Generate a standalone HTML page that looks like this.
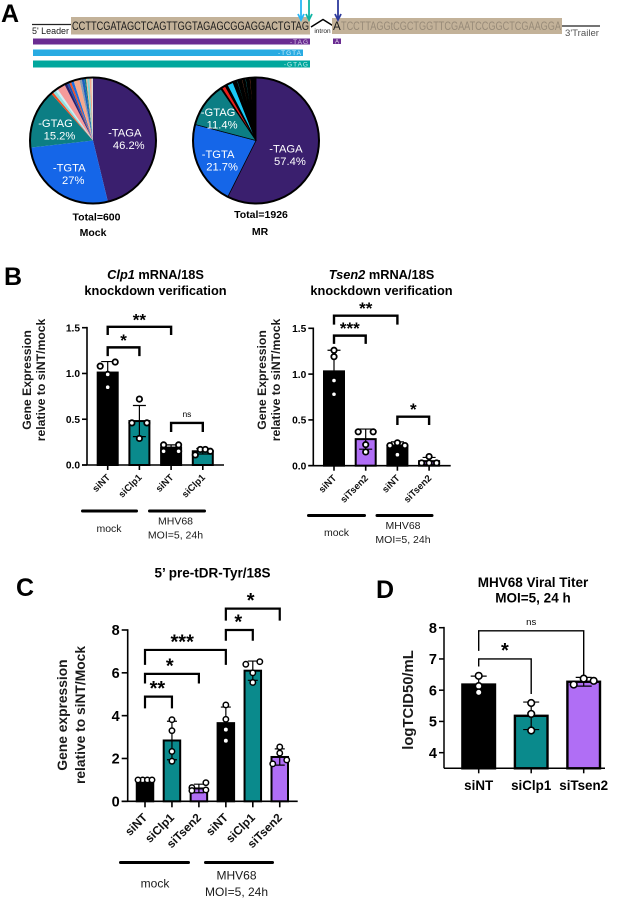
<!DOCTYPE html>
<html lang="en">
<head>
<meta charset="utf-8">
<title>pre-tRNA splicing figure</title>
<style>
html,body{margin:0;padding:0;background:#fff}
svg{display:block}
text{font-family:"Liberation Sans",sans-serif;fill:#1a1a1a}
.b{font-weight:bold}
.panel{font-weight:bold;font-size:25px;fill:#000}
.w{fill:#fff;font-size:11.2px;text-anchor:middle}
.m{text-anchor:middle}
</style>
</head>
<body>
<svg id="fig" xmlns="http://www.w3.org/2000/svg" width="619" height="899" viewBox="0 0 619 899">
<rect width="619" height="899" fill="#fff"/>

<!-- Panel A -->
<g>
<text class="panel" x="1" y="22">A</text>
<line x1="32" y1="24.5" x2="71" y2="24.5" stroke="#222" stroke-width="1.2"/>
<text x="32" y="34" font-size="9" textLength="37" lengthAdjust="spacingAndGlyphs">5' Leader</text>
<rect x="71" y="17" width="239" height="17.5" fill="#c3b299"/>
<text x="72" y="30" font-size="11.5" fill="#000" textLength="237" lengthAdjust="spacingAndGlyphs">CCTTCGATAGCTCAGTTGGTAGAGCGGAGGACTGTAG</text>
<path d="M311 27 L323 19.5 L335 27" fill="none" stroke="#000" stroke-width="1.5"/>
<text x="322.5" y="33" font-size="6.5" class="m">intron</text>
<rect x="332" y="18" width="230" height="16" fill="#c3b299"/>
<text x="333" y="30" font-size="11.5" fill="#000">A</text>
<text x="341" y="30" font-size="11.5" style="fill:#978a78" textLength="220" lengthAdjust="spacingAndGlyphs">TCCTTAGGtCGCTGGTTCGAATCCGGCTCGAAGGA</text>
<line x1="562" y1="26" x2="600" y2="26" stroke="#222" stroke-width="1.2"/>
<text x="565" y="36" font-size="9" style="fill:#555" textLength="34" lengthAdjust="spacingAndGlyphs">3'Trailer</text>
<rect x="33" y="38.5" width="277" height="6" fill="#6a2c91"/>
<text x="309" y="44" font-size="6.5" text-anchor="end" letter-spacing="1" style="fill:#d9c8e6">-TAG</text>
<rect x="333" y="38.5" width="8" height="5.5" fill="#6a2c91"/>
<text x="337" y="43.5" font-size="6" class="m" style="fill:#e6daf0">A</text>
<rect x="33" y="49.5" width="270" height="6.5" fill="#29abe2"/>
<text x="302" y="55" font-size="6.5" text-anchor="end" letter-spacing="1" style="fill:#cfeefa">-TGTA</text>
<rect x="33" y="60.5" width="277" height="7" fill="#00a79d"/>
<text x="309" y="66.5" font-size="6.5" text-anchor="end" letter-spacing="1" style="fill:#c9f0ec">-GTAG</text>
<path d="M301 0V19M298 14L301 20L304 14" fill="none" stroke="#29b6f6" stroke-width="1.8"/>
<path d="M309 0V19M306 14L309 20L312 14" fill="none" stroke="#11b5a5" stroke-width="1.8"/>
<path d="M338 0V19M335 14L338 20L341 14" fill="none" stroke="#2e3a9c" stroke-width="1.8"/>
</g>

<g id="pie-mock"></g>
<g id="pie-mr"></g>
<text class="b m" x="96.5" y="220.5" font-size="10.5" style="fill:#000">Total=600</text>
<text class="b m" x="93" y="236" font-size="10.5" style="fill:#000">Mock</text>
<text class="b m" x="261" y="218" font-size="10.5" style="fill:#000">Total=1926</text>
<text class="b m" x="260" y="235" font-size="10.5" style="fill:#000">MR</text>

<!-- Panel B -->
<text class="panel" x="4" y="285">B</text>
<text class="b m" font-size="12.8" style="fill:#000"><tspan x="155.5" y="279"><tspan font-style="italic">Clp1</tspan> mRNA/18S</tspan><tspan x="155.5" y="295">knockdown verification</tspan></text>
<text class="b m" font-size="12.2" transform="translate(27,380) rotate(-90)"><tspan x="0" y="4">Gene Expression</tspan><tspan x="0" y="18">relative to siNT/mock</tspan></text>
<g id="chart-clp1"></g>
<rect x="81" y="509.5" width="57" height="3" rx="1.5" fill="#000"/>
<rect x="148" y="509.5" width="58" height="3" rx="1.5" fill="#000"/>
<text class="m" x="109" y="532" font-size="10.5">mock</text>
<text class="m" font-size="10.5"><tspan x="175.5" y="524.5">MHV68</tspan><tspan x="175.5" y="538.5">MOI=5, 24h</tspan></text>

<text class="b m" font-size="12.8" style="fill:#000"><tspan x="381.5" y="279"><tspan font-style="italic">Tsen2</tspan> mRNA/18S</tspan><tspan x="381.5" y="295">knockdown verification</tspan></text>
<text class="b m" font-size="12.2" transform="translate(262,380) rotate(-90)"><tspan x="0" y="4">Gene Expression</tspan><tspan x="0" y="18">relative to siNT/mock</tspan></text>
<g id="chart-tsen2"></g>
<rect x="307" y="514" width="59" height="3" rx="1.5" fill="#000"/>
<rect x="375.5" y="514" width="58" height="3" rx="1.5" fill="#000"/>
<text class="m" x="336.5" y="536" font-size="10.5">mock</text>
<text class="m" font-size="10.5"><tspan x="403" y="529">MHV68</tspan><tspan x="403" y="543">MOI=5, 24h</tspan></text>

<!-- Panel C -->
<text class="panel" x="16" y="596">C</text>
<text class="b m" x="212.5" y="577.5" font-size="13.5" style="fill:#000">5’ pre-tDR-Tyr/18S</text>
<text class="b m" font-size="13.8" transform="translate(62,715) rotate(-90)"><tspan x="0" y="5">Gene expression</tspan><tspan x="0" y="23">relative to siNT/Mock</tspan></text>
<g id="chart-pretdr"></g>
<rect x="119" y="861" width="71" height="3" rx="1.5" fill="#000"/>
<rect x="204" y="861" width="70" height="3" rx="1.5" fill="#000"/>
<text class="m" x="155" y="887.5" font-size="12">mock</text>
<text class="m" font-size="12"><tspan x="236.5" y="879.5">MHV68</tspan><tspan x="236.5" y="896">MOI=5, 24h</tspan></text>

<!-- Panel D -->
<text class="panel" x="376" y="598">D</text>
<text class="b m" font-size="13.5" style="fill:#000"><tspan x="533" y="587">MHV68 Viral Titer</tspan><tspan x="533" y="602.5">MOI=5, 24 h</tspan></text>
<text class="b m" font-size="14.8" transform="translate(408,700) rotate(-90)" y="0"><tspan x="0" y="5">logTCID50/mL</tspan></text>
<g id="chart-titer"></g>
</svg>

<script>
// ---------- Pie data (percent of reads, clockwise from 12 o'clock) ----------
const mockPieValues = [46.2, 27, 15.2, 0.6, 0.8, 0.6, 2.1, 0.7, 0.6, 0.5, 0.7, 1.5, 0.6, 0.7, 0.4, 0.3, 0.6, 0.5, 0.4];
const mockPieNames = ['-TAGA', '-TGTA', '-GTAG'];
const mockPiePalette = ['#3a1f6e', '#1566e8', '#0c7e84', '#f04e23', '#8fe0e0', '#cfeef5', '#f59a9a', '#2c1f6b', '#1d4fb0', '#f04e23', '#1d6fe0', '#f7a88c', '#8a9ab0', '#1b5fbf', '#0f7f85', '#f7b08c', '#7ed6d6', '#f7a88c', '#dddddd'];
const mrPieValues = [57.4, 21.7, 11.4, 0.3, 1, 0.6, 1.6, 1, 0.3, 1, 0.3, 0.6, 0.3, 0.8, 0.3, 1.4];
const mrPieNames = ['-TAGA', '-TGTA', '-GTAG'];
const mrPiePalette = ['#3a1f6e', '#1566e8', '#0c7e84', '#000000', '#e8201a', '#000000', '#19c8f5', '#000000', '#11858c', '#000000', '#8a4a30', '#000000', '#11858c', '#000000', '#a04030', '#000000'];

// ---------- Clp1 knockdown ----------
const clp1Categories = ['siNT', 'siClp1', 'siNT', 'siClp1'];
const clp1Means = [1.01, 0.48, 0.19, 0.15];
const clp1Sds = [0.12, 0.17, 0.03, 0.03];
const clp1Points = [[1.125, 1.08, 0.99, 0.85], [0.72, 0.46, 0.46, 0.29], [0.22, 0.22, 0.15, 0.15], [0.17, 0.17, 0.15, 0.11]];
const clp1Ticks = ['0.0', '0.5', '1.0', '1.5'];
const clp1BracketFrom = [0, 0, 2];
const clp1BracketTo = [2, 1, 3];
const clp1BracketTop = [1.51, 1.285, 0.46];
const clp1BracketLeftEnd = [1.42, 1.19, 0.36];
const clp1BracketRightEnd = [1.42, 1.19, 0.36];
const clp1BracketLabels = ['**', '*', 'ns'];

// ---------- Tsen2 knockdown ----------
const tsen2Categories = ['siNT', 'siTsen2', 'siNT', 'siTsen2'];
const tsen2Means = [1.03, 0.29, 0.22, 0.05];
const tsen2Sds = [0.23, 0.11, 0.04, 0.04];
const tsen2Points = [[1.26, 1.19, 0.93, 0.78], [0.37, 0.37, 0.23, 0.15], [0.25, 0.22, 0.22, 0.12], [0.10, 0.03, 0.03, 0.03]];
const tsen2Ticks = ['0.0', '0.5', '1.0', '1.5'];
const tsen2BracketFrom = [0, 0, 2];
const tsen2BracketTo = [2, 1, 3];
const tsen2BracketTop = [1.638, 1.42, 0.535];
const tsen2BracketLeftEnd = [1.54, 1.33, 0.445];
const tsen2BracketRightEnd = [1.54, 1.33, 0.445];
const tsen2BracketLabels = ['**', '***', '*'];

// ---------- 5' pre-tDR-Tyr ----------
const pretdrCategories = ['siNT', 'siClp1', 'siTsen2', 'siNT', 'siClp1', 'siTsen2'];
const pretdrMeans = [1, 2.84, 0.6, 3.65, 6.1, 2.07];
const pretdrSds = [0, 0.9, 0.2, 0.75, 0.45, 0.38];
const pretdrPoints = [[1, 1, 1, 1], [3.81, 3.3, 2.33, 1.87], [0.87, 0.64, 0.53, 0.5], [4.5, 3.83, 3.35, 2.83], [6.52, 6.4, 6, 5.55], [2.54, 2.25, 1.93, 1.75]];
const pretdrTicks = ['0', '2', '4', '6', '8'];
const pretdrBracketFrom = [3, 3, 0, 0, 0];
const pretdrBracketTo = [5, 4, 3, 2, 1];
const pretdrBracketTop = [9, 8, 7.07, 5.95, 4.89];
const pretdrBracketLeftEnd = [8.44, 7.5, 6.37, 5.5, 4.34];
const pretdrBracketRightEnd = [8.44, 7.5, 6.37, 5.5, 4.34];
const pretdrBracketLabels = ['*', '*', '***', '*', '**'];

// ---------- Viral titer ----------
const titerCategories = ['siNT', 'siClp1', 'siTsen2'];
const titerMeans = [6.18, 5.18, 6.27];
const titerSds = [0.27, 0.44, 0.14];
const titerPoints = [[6.46, 6.13, 5.93], [5.59, 5.24, 4.71], [6.37, 6.3, 6.18]];
const titerTicks = ['4', '5', '6', '7', '8'];
const titerBracketFrom = [0, 0];
const titerBracketTo = [2, 1];
const titerBracketTop = [7.9, 7];
const titerBracketLeftEnd = [7.26, 6.76];
const titerBracketRightEnd = [6.46, 5.88];
const titerBracketLabels = ['ns', '*'];

const NS = 'http://www.w3.org/2000/svg';
function make(parent, tag, attrs, text) {
  const el = document.createElementNS(NS, tag);
  for (const k in attrs) el.setAttribute(k, attrs[k]);
  if (text !== undefined) el.textContent = text;
  parent.appendChild(el);
  return el;
}

// ---------- Pie drawing ----------
function drawPie(host, values, names, palette, opt) {
  const total = values.reduce((a, b) => a + b, 0);
  const pt = (angle, r) => [opt.cx + r * Math.sin(angle), opt.cy - r * Math.cos(angle)];
  let acc = 0;
  values.forEach((v, i) => {
    const a0 = acc / total * 2 * Math.PI;
    acc += v;
    const a1 = acc / total * 2 * Math.PI;
    const p0 = pt(a0, opt.r), p1 = pt(a1, opt.r);
    const large = a1 - a0 > Math.PI ? 1 : 0;
    const slice = make(host, 'path', {
      d: `M${opt.cx} ${opt.cy}L${p0[0]} ${p0[1]}A${opt.r} ${opt.r} 0 ${large} 1 ${p1[0]} ${p1[1]}Z`,
      fill: palette[i], stroke: opt.sliceStroke, 'stroke-width': opt.sliceStrokeWidth
    });
    
    
  });
  const ring = make(host, 'circle', { cx: opt.cx, cy: opt.cy, r: opt.r, fill: 'none', stroke: '#000', 'stroke-width': 2 });
  
  
  let acc2 = 0;
  names.forEach((name, i) => {
    const mid = (acc2 + values[i] / 2) / total * 2 * Math.PI;
    acc2 += values[i];
    const p = pt(mid + opt.labelShift[i], opt.labelRadius[i]);
    const a = make(host, 'text', { class: 'w', x: p[0] - 2, y: p[1] - 2 + opt.labelDy }, name);
    
    
    const b = make(host, 'text', { class: 'w', x: p[0] + 2, y: p[1] + 10.5 + opt.labelDy }, values[i] + '%');
    
    
  });
}

// ---------- Bar chart drawing ----------
function swarmOffsets(n, spread) {
  if (n === 1) return [0];
  if (n === 2) return [spread / 2, -spread / 2];
  if (n === 3) return [0, spread / 2, -spread / 2];
  return [-spread / 6, spread / 6, spread / 2, -spread / 2];
}

function drawBars(host, d, o) {
  const y = v => o.yBottom - (v - o.vBottom) / (o.vTop - o.vBottom) * (o.yBottom - o.yTop);
  const x = i => o.firstCenter + i * o.step;

  d.means.forEach((m, i) => {
    const bar = make(host, 'rect', {
      x: x(i) - o.barWidth / 2 + o.barStroke / 2,
      y: y(m),
      width: o.barWidth - o.barStroke,
      height: o.yBottom - y(m),
      fill: o.fills[i], stroke: '#000', 'stroke-width': o.barStroke
    });
    
    
  });

  d.means.forEach((m, i) => {
    const hi = y(m + d.sds[i]), lo = y(m - d.sds[i]);
    const err = make(host, 'path', {
      d: `M${x(i)} ${hi}V${lo}M${x(i) - o.cap} ${hi}H${x(i) + o.cap}M${x(i) - o.cap} ${lo}H${x(i) + o.cap}`,
      fill: 'none', stroke: '#000', 'stroke-width': 1.2
    });
    
    
  });

  d.points.forEach((vals, i) => {
    const sorted = vals.slice().sort((a, b) => b - a);
    const bins = [];
    sorted.forEach(v => {
      const last = bins[bins.length - 1];
      if (last && y(v) - y(last[0]) <= 6.05) last.push(v);
      else bins.push([v]);
    });
    bins.forEach(bin => {
      const offs = swarmOffsets(bin.length, o.spread);
      bin.forEach((v, k) => {
        const c = make(host, 'circle', {
          cx: x(i) + offs[k], cy: y(v), r: o.pointR,
          fill: '#fff', stroke: '#000', 'stroke-width': o.pointStroke
        });
        
        
      });
    });
  });

  const yAxis = make(host, 'line', { x1: o.axisX, x2: o.axisX, y1: o.yTop - 0.8, y2: o.yBottom, stroke: '#000', 'stroke-width': o.axisStroke });
  
  
  const xAxis = make(host, 'line', { x1: o.axisX - (o.vBottom === 0 ? o.tickLen : 0), x2: o.xEnd, y1: o.yBottom, y2: o.yBottom, stroke: '#000', 'stroke-width': o.axisStroke });
  
  

  d.ticks.forEach(t => {
    const tv = parseFloat(t);
    const tick = make(host, 'line', { x1: o.axisX - o.tickLen, x2: o.axisX, y1: y(tv), y2: y(tv), stroke: '#000', 'stroke-width': o.axisStroke });
    
    
    const lab = make(host, 'text', { x: o.axisX - o.tickLen - 2, y: y(tv) + o.tickFont * 0.36, 'text-anchor': 'end', 'font-size': o.tickFont, 'font-weight': 'bold', style: 'fill:#000' }, t);
    
    
  });

  d.categories.forEach((name, i) => {
    const tick = make(host, 'line', { x1: x(i), x2: x(i), y1: o.yBottom, y2: o.yBottom + o.tickLen, stroke: '#000', 'stroke-width': o.axisStroke });
    
    
    const attrs = o.rotateLabels
      ? { x: 0, y: 0, 'text-anchor': 'end', transform: `translate(${x(i) + 3},${o.yBottom + o.labelDrop}) rotate(-45)`, 'font-size': o.labelFont, 'font-weight': 'bold', style: 'fill:#111' }
      : { x: x(i), y: o.yBottom + o.labelDrop, 'text-anchor': 'middle', 'font-size': o.labelFont, 'font-weight': 'bold', style: 'fill:#000' };
    const lab = make(host, 'text', attrs, name);
    
    
  });

  d.brFrom.forEach((from, k) => {
    const x0 = x(from), x1 = x(d.brTo[k]);
    const top = y(d.brTop[k]);
    const br = make(host, 'path', {
      d: `M${x0} ${y(d.brLeft[k])}V${top}H${x1}V${y(d.brRight[k])}`,
      fill: 'none', stroke: '#000', 'stroke-width': o.bracketStroke
    });
    
    
    const label = d.brLabels[k];
    const isNs = label === 'ns';
    const tx = make(host, 'text', {
      x: o.labelAtBracketLeft ? x0 + (x1 - x0) * (isNs ? 0.5 : o.labelAtBracketLeft) : (x0 + x1) / 2,
      y: isNs ? top - 6 : top + o.starDrop,
      'text-anchor': 'middle',
      'font-size': isNs ? o.nsFont : o.starFont,
      'font-weight': isNs ? 'normal' : 'bold',
      style: 'fill:#000'
    }, label);
    
    
  });
}

const BLACK = '#000', TEAL = '#0a8a8c', PURPLE = '#b06ef5';

drawPie(document.getElementById('pie-mock'), mockPieValues, mockPieNames, mockPiePalette, {
  cx: 93, cy: 140.5, r: 63, sliceStroke: 'none', sliceStrokeWidth: 0,
  labelRadius: [34, 38, 38], labelShift: [0, 0, 0], labelDy: 2
});
drawPie(document.getElementById('pie-mr'), mrPieValues, mrPieNames, mrPiePalette, {
  cx: 256, cy: 140.5, r: 63, sliceStroke: '#000', sliceStrokeWidth: 0.7,
  labelRadius: [35, 41, 42], labelShift: [0.19, -0.08, -0.07], labelDy: -0.5
});

drawBars(document.getElementById('chart-clp1'), {
  categories: clp1Categories, means: clp1Means, sds: clp1Sds, points: clp1Points, ticks: clp1Ticks,
  brFrom: clp1BracketFrom, brTo: clp1BracketTo, brTop: clp1BracketTop, brLeft: clp1BracketLeftEnd, brRight: clp1BracketRightEnd, brLabels: clp1BracketLabels
}, {
  axisX: 87, xEnd: 224, yTop: 327.7, yBottom: 465, vTop: 1.5, vBottom: 0,
  firstCenter: 107.7, step: 31.7, barWidth: 22, barStroke: 2, fills: [BLACK, TEAL, BLACK, TEAL],
  cap: 6.5, spread: 15, pointR: 2.7, pointStroke: 1.8, axisStroke: 1.6, tickLen: 5,
  tickFont: 10.2, labelFont: 9.5, labelDrop: 13, rotateLabels: true,
  bracketStroke: 2.4, starFont: 17, starDrop: -1.5, nsFont: 8.5
});
drawBars(document.getElementById('chart-tsen2'), {
  categories: tsen2Categories, means: tsen2Means, sds: tsen2Sds, points: tsen2Points, ticks: tsen2Ticks,
  brFrom: tsen2BracketFrom, brTo: tsen2BracketTo, brTop: tsen2BracketTop, brLeft: tsen2BracketLeftEnd, brRight: tsen2BracketRightEnd, brLabels: tsen2BracketLabels
}, {
  axisX: 313.3, xEnd: 450.7, yTop: 328.3, yBottom: 465.7, vTop: 1.5, vBottom: 0,
  firstCenter: 334, step: 31.7, barWidth: 22, barStroke: 2, fills: [BLACK, PURPLE, BLACK, PURPLE],
  cap: 6.5, spread: 15, pointR: 2.7, pointStroke: 1.8, axisStroke: 1.6, tickLen: 5,
  tickFont: 10.2, labelFont: 9.5, labelDrop: 13, rotateLabels: true,
  bracketStroke: 2.4, starFont: 17, starDrop: -1.5, nsFont: 8.5
});
drawBars(document.getElementById('chart-pretdr'), {
  categories: pretdrCategories, means: pretdrMeans, sds: pretdrSds, points: pretdrPoints, ticks: pretdrTicks,
  brFrom: pretdrBracketFrom, brTo: pretdrBracketTo, brTop: pretdrBracketTop, brLeft: pretdrBracketLeftEnd, brRight: pretdrBracketRightEnd, brLabels: pretdrBracketLabels
}, {
  axisX: 127.7, xEnd: 297.7, yTop: 630, yBottom: 801.3, vTop: 8, vBottom: 0,
  firstCenter: 145, step: 26.95, barWidth: 18.5, barStroke: 2, fills: [BLACK, TEAL, PURPLE, BLACK, TEAL, PURPLE],
  cap: 5, spread: 14, pointR: 2.7, pointStroke: 1.5, axisStroke: 1.6, tickLen: 6,
  tickFont: 14.5, labelFont: 11.8, labelDrop: 17, rotateLabels: true,
  bracketStroke: 2.2, starFont: 20, starDrop: -1.5, nsFont: 9, labelAtBracketLeft: 0.46
});
drawBars(document.getElementById('chart-titer'), {
  categories: titerCategories, means: titerMeans, sds: titerSds, points: titerPoints, ticks: titerTicks,
  brFrom: titerBracketFrom, brTo: titerBracketTo, brTop: titerBracketTop, brLeft: titerBracketLeftEnd, brRight: titerBracketRightEnd, brLabels: titerBracketLabels
}, {
  axisX: 444, xEnd: 605, yTop: 627.7, yBottom: 768.3, vTop: 8, vBottom: 3.5,
  firstCenter: 478.7, step: 52.5, barWidth: 35, barStroke: 2.4, fills: [BLACK, TEAL, PURPLE],
  cap: 8, spread: 20, pointR: 3.3, pointStroke: 1.6, axisStroke: 1.5, tickLen: 5,
  tickFont: 14.5, labelFont: 13.4, labelDrop: 21.5, rotateLabels: false,
  bracketStroke: 1.4, starFont: 20, starDrop: -2, nsFont: 9.5
});
</script>
</body>
</html>
